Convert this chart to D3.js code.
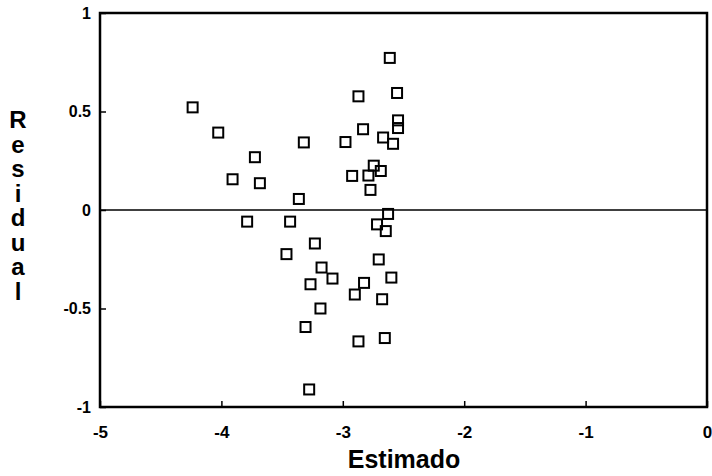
<!DOCTYPE html>
<html>
<head>
<meta charset="utf-8">
<script src="https://cdn.jsdelivr.net/npm/d3@7"></script>
<style>
  body { margin: 0; background: #fff; }
  svg text { font-family: "Liberation Sans", Arial, sans-serif; font-weight: bold; fill: #000; }
</style>
</head>
<body>
<svg width="712" height="476"></svg>
<script>
// Estimated values and residuals
var estimado = [-2.613, -4.237, -4.026, -3.321, -2.871, -2.553, -2.545, -2.545, -2.833, -2.978,
    -2.668, -2.586, -3.724, -3.908, -3.683, -3.362, -2.923, -2.745, -2.687, -2.789,
    -2.772, -2.627, -2.718, -2.646, -3.788, -3.434, -3.230, -3.464, -2.704, -3.175,
    -3.085, -3.266, -2.600, -2.825, -2.901, -2.676, -3.184, -3.307, -2.871, -2.654,
    -3.277];
var residual = [0.772, 0.521, 0.393, 0.343, 0.577, 0.594, 0.455, 0.416, 0.410, 0.345,
    0.368, 0.336, 0.268, 0.156, 0.136, 0.056, 0.173, 0.225, 0.198, 0.175,
    0.102, -0.020, -0.073, -0.107, -0.059, -0.059, -0.170, -0.224, -0.251, -0.292,
    -0.348, -0.377, -0.343, -0.370, -0.429, -0.453, -0.500, -0.594, -0.667, -0.650,
    -0.911];
var xTicks = [-5, -4, -3, -2, -1, 0];
var yTicks = [1, 0.5, 0, -0.5, -1];
var yLabel = "Residual";

(function () {
    var svg = d3.select("svg");
    // plot box (top is a reserved window property, so use other names)
    var mLeft = 100, mRight = 707, mTop = 13, mBottom = 407;

    var x = d3.scaleLinear().domain([-5, 0]).range([mLeft, mRight]);
    var y = d3.scaleLinear().domain([-1, 1]).range([mBottom, mTop]);

    // frame
    svg.append("rect")
        .attr("x", mLeft).attr("y", mTop)
        .attr("width", mRight - mLeft).attr("height", mBottom - mTop)
        .attr("fill", "none").attr("stroke", "#000").attr("stroke-width", 2.5);

    // axes with inward ticks
    svg.append("g")
        .attr("transform", "translate(0," + mBottom + ")")
        .call(d3.axisBottom(x).tickValues(xTicks).tickSizeInner(-6).tickSizeOuter(0).tickPadding(19)
            .tickFormat(function (d) { return d; }))
        .call(function (g) { g.select(".domain").remove(); })
        .call(function (g) { g.selectAll("line").attr("stroke-width", 1.5); })
        .selectAll("text").attr("font-size", 17);

    svg.append("g")
        .attr("transform", "translate(" + mLeft + ",0)")
        .call(d3.axisLeft(y).tickValues(yTicks).tickSizeInner(-6).tickSizeOuter(0).tickPadding(9)
            .tickFormat(function (d) { return d; }))
        .call(function (g) { g.select(".domain").remove(); })
        .call(function (g) { g.selectAll("line").attr("stroke-width", 1.5); })
        .selectAll("text").attr("font-size", 16);

    // zero line
    svg.append("line")
        .attr("x1", mLeft).attr("x2", mRight)
        .attr("y1", y(0)).attr("y2", y(0))
        .attr("stroke", "#000").attr("stroke-width", 1.5);

    // points
    svg.append("g")
        .selectAll("rect")
        .data(estimado)
        .enter()
        .append("rect")
        .attr("x", function (d) { return x(d) - 5; })
        .attr("y", function (d, i) { return y(residual[i]) - 5; })
        .attr("width", 10).attr("height", 10)
        .attr("fill", "none").attr("stroke", "#000").attr("stroke-width", 2);

    // axis titles
    svg.append("text")
        .attr("x", 404).attr("y", 468)
        .attr("text-anchor", "middle")
        .attr("font-size", 25)
        .text("Estimado");

    svg.append("g")
        .selectAll("text")
        .data(yLabel.split(""))
        .enter()
        .append("text")
        .attr("x", 18)
        .attr("y", function (d, i) { return 128 + i * 24.5; })
        .attr("text-anchor", "middle")
        .attr("font-size", 24)
        .text(function (d) { return d; });
})();
</script>
</body>
</html>
